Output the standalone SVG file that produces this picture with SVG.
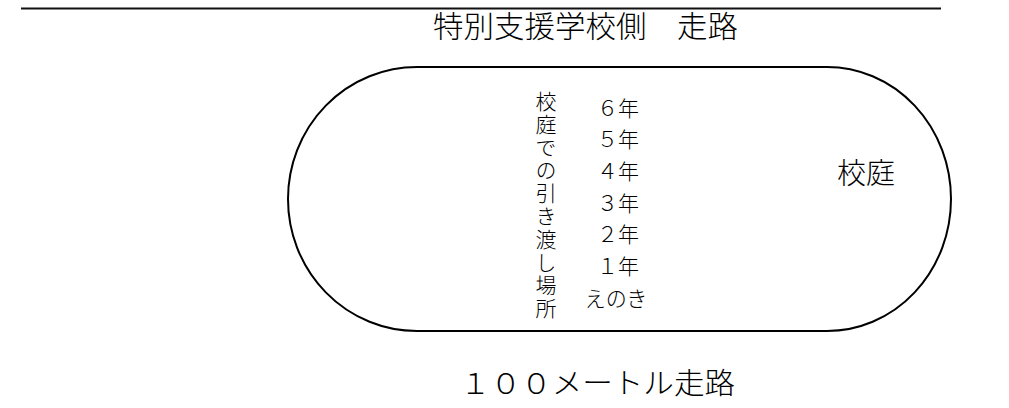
<svg xmlns="http://www.w3.org/2000/svg" width="1009" height="408" viewBox="0 0 1009 408">
<style>
  .t { font-family: "Noto Sans CJK JP", "Noto Sans CJK SC", sans-serif; fill: #000; font-weight: 300; }
  .m { text-anchor: middle; }
  .track { fill: #fff; stroke: #000; stroke-width: 2; }
</style>
<rect width="1009" height="408" fill="#fff"/>
<g id="top-line">
  <line x1="21" y1="8.5" x2="941" y2="8.5" stroke="#111" stroke-width="2.2"/>
</g>
<g id="title">
  <text class="t" x="433" y="37" font-size="30" textLength="305" lengthAdjust="spacingAndGlyphs">特別支援学校側　走路</text>
</g>
<g id="track">
  <path class="track" d="M417,67 H827 A124,132 0 0 1 827,331 H417 A129,132 0 0 1 417,67 Z"/>
</g>
<g id="handover-label">
  <text class="t" font-size="21" x="546" y="91" writing-mode="vertical-rl" letter-spacing="1.9">校庭での引き渡し場所</text>
</g>
<g id="grades">
  <text class="t m" font-size="21" x="618" y="115.5">６年</text>
  <text class="t m" font-size="21" x="618" y="147">５年</text>
  <text class="t m" font-size="21" x="618" y="179">４年</text>
  <text class="t m" font-size="21" x="618" y="210.5">３年</text>
  <text class="t m" font-size="21" x="618" y="242">２年</text>
  <text class="t m" font-size="21" x="618" y="274">１年</text>
  <text class="t m" font-size="21" x="616" y="306">えのき</text>
</g>
<g id="schoolyard">
  <text class="t m" font-size="29" x="866" y="183.5">校庭</text>
</g>
<g id="bottom-label">
  <text class="t" font-size="29" x="460" y="393.5" textLength="275" lengthAdjust="spacingAndGlyphs">１００メートル走路</text>
</g>
</svg>
